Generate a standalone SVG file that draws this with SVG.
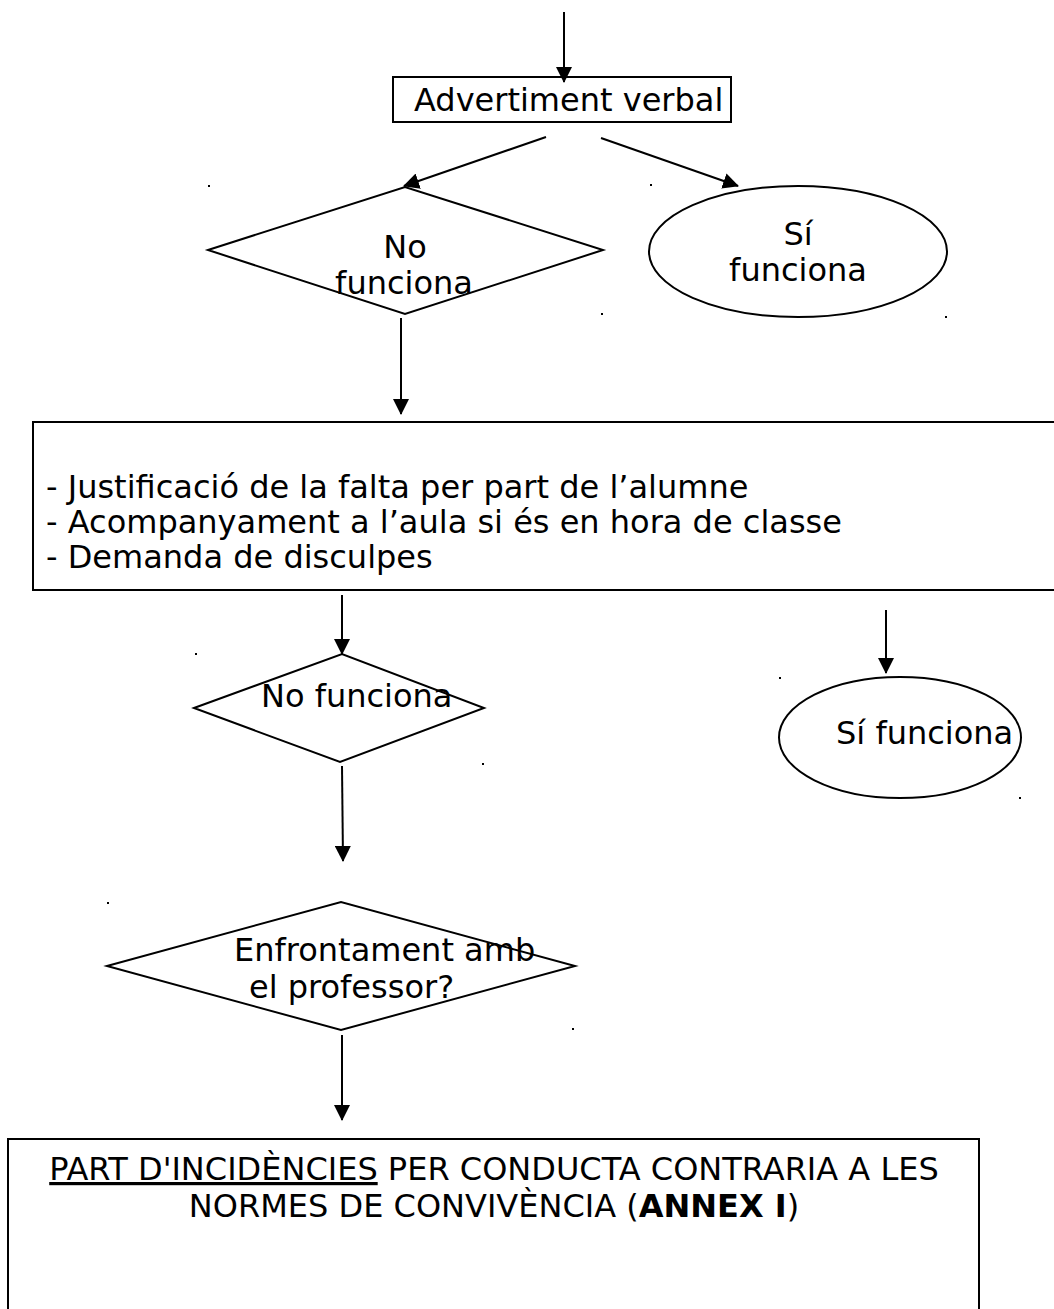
<svg xmlns="http://www.w3.org/2000/svg" width="1054" height="1309" viewBox="0 0 1054 1309">
<style>
.s{fill:none;stroke:#000;stroke-width:2}
.t{font-family:"DejaVu Sans","Noto Sans",sans-serif;font-size:32px;fill:#000}
.c{text-anchor:middle}
.dot{fill:#000}
</style>
<defs>
<marker id="ah" markerWidth="16" markerHeight="16" refX="15" refY="8" orient="auto" markerUnits="userSpaceOnUse">
<path d="M0,0 L16,8 L0,16 Z" fill="#000"/>
</marker>
</defs>
<rect width="1054" height="1309" fill="#fff"/>
<g id="connectors">
<line class="s" x1="564" y1="12" x2="564" y2="82" marker-end="url(#ah)"/>
<line class="s" x1="546" y1="137" x2="404" y2="186" marker-end="url(#ah)"/>
<line class="s" x1="601" y1="138" x2="738" y2="186" marker-end="url(#ah)"/>
<line class="s" x1="401" y1="318" x2="401" y2="414" marker-end="url(#ah)"/>
<line class="s" x1="342" y1="595" x2="342" y2="654" marker-end="url(#ah)"/>
<line class="s" x1="886" y1="610" x2="886" y2="673" marker-end="url(#ah)"/>
<line class="s" x1="342" y1="766" x2="343" y2="861" marker-end="url(#ah)"/>
<line class="s" x1="342" y1="1035" x2="342" y2="1120" marker-end="url(#ah)"/>
</g>
<g id="n-advertiment">
<rect class="s" x="393" y="77" width="338" height="45"/>
<text class="t" x="414" y="111">Advertiment verbal</text>
</g>
<g id="n-nofunciona1">
<polygon class="s" points="208,250 405,187 603,250 405,314"/>
<text class="t c" x="405" y="258">No</text>
<text class="t c" x="404" y="294">funciona</text>
</g>
<g id="n-sifunciona1">
<ellipse class="s" cx="798" cy="251.5" rx="149" ry="65.5"/>
<text class="t c" x="798" y="245">Sí</text>
<text class="t c" x="798" y="281">funciona</text>
</g>
<g id="n-mesures">
<path class="s" d="M1056,422 H33 V590 H1056"/>
<text class="t" x="46" y="498">- Justificació de la falta per part de l’alumne</text>
<text class="t" x="46" y="533">- Acompanyament a l’aula si és en hora de classe</text>
<text class="t" x="46" y="568">- Demanda de disculpes</text>
</g>
<g id="n-nofunciona2">
<polygon class="s" points="194,708 342,654 484,708 340,762"/>
<text class="t" x="261" y="707">No funciona</text>
</g>
<g id="n-sifunciona2">
<ellipse class="s" cx="900" cy="737.5" rx="121" ry="60.5"/>
<text class="t" x="836" y="744">Sí funciona</text>
</g>
<g id="n-enfrontament">
<polygon class="s" points="107,966 341,902 575,966 341,1030"/>
<text class="t" x="234" y="961">Enfrontament amb</text>
<text class="t" x="249" y="998">el professor?</text>
</g>
<g id="n-part">
<path class="s" d="M8,1311 V1139 H979 V1311"/>
<text class="t c" x="494" y="1180"><tspan text-decoration="underline">PART D'INCIDÈNCIES</tspan> PER CONDUCTA CONTRARIA A LES</text>
<text class="t c" x="494" y="1217">NORMES DE CONVIVÈNCIA (<tspan font-weight="bold">ANNEX I</tspan>)</text>
</g>
<g id="marks">
<rect class="dot" x="208" y="185" width="2" height="2"/>
<rect class="dot" x="650" y="184" width="2" height="2"/>
<rect class="dot" x="601" y="313" width="2" height="2"/>
<rect class="dot" x="945" y="316" width="2" height="2"/>
<rect class="dot" x="195" y="653" width="2" height="2"/>
<rect class="dot" x="779" y="677" width="2" height="2"/>
<rect class="dot" x="482" y="763" width="2" height="2"/>
<rect class="dot" x="1019" y="797" width="2" height="2"/>
<rect class="dot" x="107" y="902" width="2" height="2"/>
<rect class="dot" x="572" y="1028" width="2" height="2"/>
</g>
</svg>
